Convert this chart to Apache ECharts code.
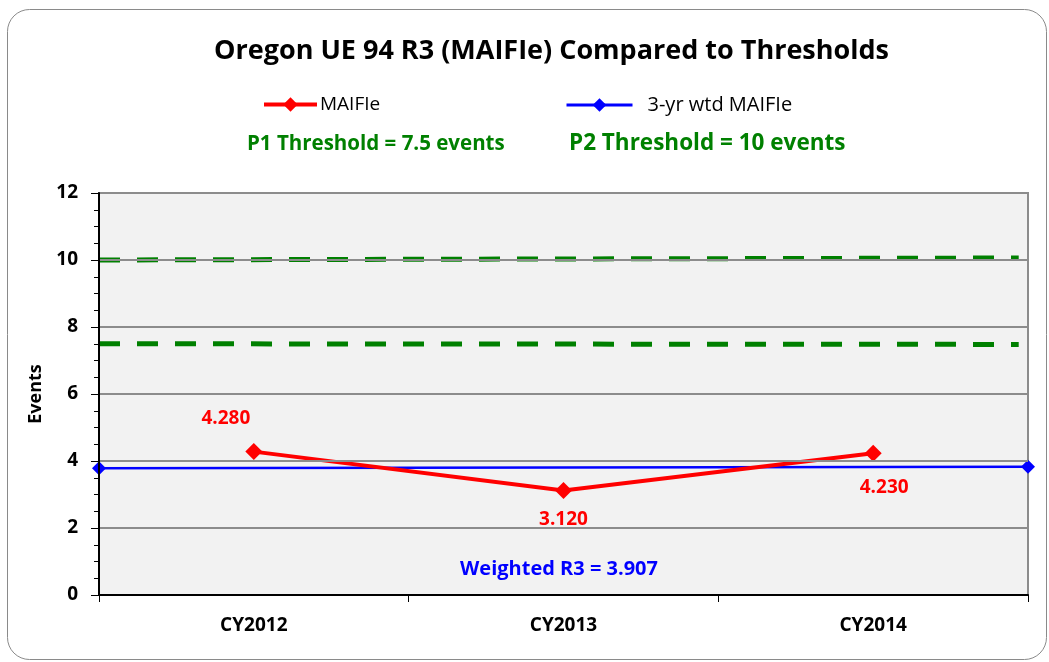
<!DOCTYPE html>
<html><head><meta charset="utf-8">
<script src="https://cdn.jsdelivr.net/npm/echarts@6/dist/echarts.min.js"></script>
<style>html,body{margin:0;padding:0;background:#fff}#c{width:1049px;height:662px}</style>
</head><body><div id="c"></div>
<script>
const categories = ['CY2012', 'CY2013', 'CY2014'];
const maifie = [4.28, 3.12, 4.23];
const maifieLabels = ['4.280', '3.120', '4.230'];
const weightedLine = [[0, 3.78], [1, 3.83]];
const p1Line = [[0, 7.5], [0.99, 7.48]];
const p2Line = [[0, 10.0], [0.99, 10.06]];
const yTicks = [0, 2, 4, 6, 8, 10, 12];
const titleText = 'Oregon UE 94 R3 (MAIFIe) Compared to Thresholds';
const p1Text = 'P1 Threshold = 7.5 events';
const p2Text = 'P2 Threshold = 10 events';
const weightedText = 'Weighted R3 = 3.907';

const FONT = '"Open Sans", Lato, sans-serif';
const chart = echarts.init(document.getElementById('c'), null, {renderer: 'canvas'});
const labelOffsets = [[-28, -10], [0, 6], [11, 11]];
const labelPos = ['top', 'bottom', 'bottom'];

chart.setOption({
  animation: false,
  backgroundColor: '#fff',
  title: {
    text: titleText, left: 209, top: 33,
    textStyle: {fontFamily: FONT, fontWeight: 'bold', fontSize: 27, color: '#000'}
  },
  legend: [
    {data: ['MAIFIe'], left: 257, top: 90, itemWidth: 53, itemHeight: 18, itemGap: 6,
     lineStyle: {width: 4}, itemStyle: {borderWidth: 0},
     textStyle: {fontFamily: FONT, fontSize: 19, color: '#000', padding: [0, 0, 0, -2]}},
    {data: ['3-yr wtd MAIFIe'], left: 560, top: 90, itemWidth: 66, itemHeight: 17,
     lineStyle: {width: 3}, itemStyle: {borderWidth: 0},
     textStyle: {fontFamily: FONT, fontSize: 20, color: '#000', padding: [0, 0, 0, 10]}}
  ],
  graphic: [
    {type: 'rect', left: 5, top: 7, z: -10, silent: true,
     shape: {width: 1039, height: 650, r: 22},
     style: {fill: 'none', stroke: '#8a8a8a', lineWidth: 1}},
    {type: 'text', left: 247, top: 134,
     style: {text: p1Text, fill: '#008000', font: 'bold 20.5px ' + FONT}},
    {type: 'text', left: 569, top: 132,
     style: {text: p2Text, fill: '#008000', font: 'bold 22.5px ' + FONT}},
    {type: 'text', left: 460, top: 559,
     style: {text: weightedText, fill: '#0000ff', font: 'bold 20px ' + FONT}}
  ],
  grid: {left: 99, right: 21, top: 193, bottom: 67, show: true,
         backgroundColor: '#f2f2f2', borderColor: '#8c8c8c', borderWidth: 2},
  xAxis: [
    {type: 'category', data: categories, boundaryGap: true,
     axisLine: {lineStyle: {color: '#000', width: 2}},
     axisTick: {show: true, length: 7, lineStyle: {color: '#000'}},
     axisLabel: {fontFamily: FONT, fontWeight: 'bold', fontSize: 19, color: '#000', margin: 21},
     z: 5},
    {type: 'value', min: 0, max: 1, show: false}
  ],
  yAxis: {
    type: 'value', min: 0, max: 12, interval: 2,
    name: 'Events', nameLocation: 'middle', nameGap: 50, nameRotate: 90,
    nameTextStyle: {fontFamily: FONT, fontWeight: 'bold', fontSize: 18, color: '#000'},
    axisLine: {show: true, lineStyle: {color: '#000', width: 2}},
    axisTick: {show: true, length: 8, lineStyle: {color: '#000'}},
    minorTick: {show: true, splitNumber: 4, length: 5, lineStyle: {color: '#000'}},
    axisLabel: {fontFamily: FONT, fontWeight: 'bold', fontSize: 19, color: '#000', margin: 21,
      formatter: v => yTicks.includes(v) ? String(v) : ''},
    splitLine: {show: true, lineStyle: {color: '#8c8c8c', width: 2}},
    z: 5
  },
  series: [
    {name: 'P2', type: 'line', xAxisIndex: 1, data: p2Line, symbol: 'none', silent: true,
     lineStyle: {color: '#008000', width: 5, type: [21, 17]}, z: 2},
    {name: 'P1', type: 'line', xAxisIndex: 1, data: p1Line, symbol: 'none', silent: true,
     lineStyle: {color: '#008000', width: 5, type: [21, 17]}, z: 2},
    {name: '3-yr wtd MAIFIe', type: 'line', xAxisIndex: 1, data: weightedLine,
     symbol: 'diamond', symbolSize: 14, color: '#0000ff',
     lineStyle: {color: '#0000ff', width: 2.5}, itemStyle: {color: '#0000ff'}, z: 3},
    {name: 'MAIFIe', type: 'line', data: maifie.map((v, i) => ({
        value: v,
        label: {show: true, position: labelPos[i], offset: labelOffsets[i],
                formatter: maifieLabels[i], fontFamily: FONT, fontWeight: 'bold',
                fontSize: 19, color: '#ff0000'}
      })),
     symbol: 'diamond', symbolSize: 17, color: '#ff0000',
     lineStyle: {color: '#ff0000', width: 4}, itemStyle: {color: '#ff0000'}, z: 4}
  ]
});
</script></body></html>
